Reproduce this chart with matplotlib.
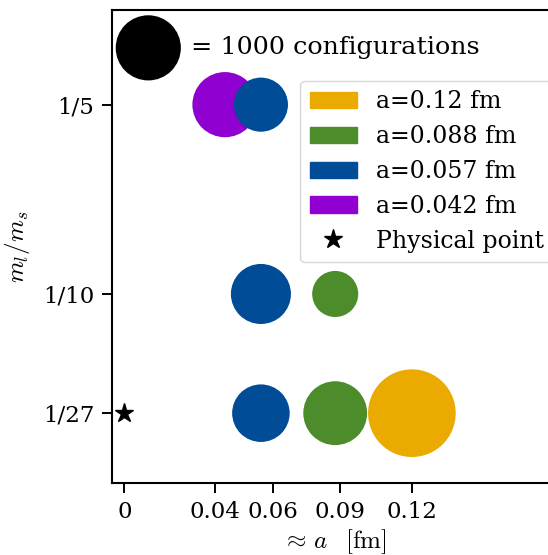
import matplotlib
matplotlib.use("Agg")
import matplotlib.pyplot as plt
from matplotlib.patches import Patch
from matplotlib.lines import Line2D

plt.rcParams["font.family"] = ["DejaVu Serif"]
plt.rcParams["mathtext.fontset"] = "cm"
plt.rcParams["font.size"] = 16.5

# Lattice spacings (fm) and their colours
spacings = [0.042, 0.057, 0.088, 0.12]
spacing_labels = ["a=0.042 fm", "a=0.057 fm", "a=0.088 fm", "a=0.12 fm"]
colors = ["#9000D0", "#004C97", "#4C8C2B", "#EAAA00"]

# Ensembles per spacing: quark-mass ratios and number of configurations
ratios = {
    0.042: [1 / 5],
    0.057: [1 / 27, 1 / 10, 1 / 5],
    0.088: [1 / 27, 1 / 10],
    0.12: [1 / 27],
}
n_configs = {
    0.042: [1000],
    0.057: [780, 850, 690],
    0.088: [960, 500],
    0.12: [1810],
}

# Reference marker
ref_configs = 1000
ref_pos = (0.01, 0.23)

# Physical point
phys_a = 0.0
phys_ratio = 1 / 27

# Axis ticks
xticks = [0, 0.038, 0.062, 0.09, 0.12]
xticklabels = ["0", "0.04", "0.06", "0.09", "0.12"]
yticks = [1 / 27, 1 / 10, 1 / 5]
yticklabels = ["1/27", "1/10", "1/5"]

size_per_config = 2.2  # points^2 per configuration

fig = plt.figure(figsize=(5.48, 5.55), dpi=100)
# the axes runs past the right edge of the canvas, so its right side is cut
ax = fig.add_axes([0.205, 0.1292, 0.809, 0.8528])
ax.spines["right"].set_visible(False)

for a, c in zip(spacings, colors):
    ax.scatter([a] * len(ratios[a]), ratios[a],
               s=[n * size_per_config for n in n_configs[a]],
               color=c, edgecolors="none", zorder=2)

ax.scatter([ref_pos[0]], [ref_pos[1]], s=ref_configs * size_per_config,
           color="black", edgecolors="none", zorder=2)
ax.text(0.028, ref_pos[1], "= 1000 configurations", va="center", ha="left",
        fontsize=18.3)

ax.plot([phys_a], [phys_ratio], marker="*", color="black", ls="",
        markersize=13.7, zorder=3)

ax.set_xlim(-0.005, 0.18)
ax.set_ylim(0, 0.25)
ax.set_xticks(xticks)
ax.set_xticklabels(xticklabels)
ax.set_yticks(yticks)
ax.set_yticklabels(yticklabels)
ax.set_xlabel(r"$\approx\,a\,\ \ [\mathrm{fm}]$", fontsize=18, labelpad=3)
ax.set_ylabel(r"$m_l/m_s$", fontsize=18, labelpad=8)

for name in ("left", "top", "bottom"):
    ax.spines[name].set_linewidth(1.5)
ax.tick_params(direction="out", length=7, width=1.4, pad=6)

handles = [Patch(color=c, label=l) for c, l in zip(colors[::-1], spacing_labels[::-1])]
handles.append(Line2D([], [], marker="*", color="black", ls="", markersize=13.7,
                      label="Physical point"))
leg = fig.legend(handles=handles, loc="upper left",
                 bbox_to_anchor=(300.3 / 548, 1 - 81 / 555),
                 fontsize=17, borderaxespad=0.0)

fig.savefig("out.png", dpi=100)
